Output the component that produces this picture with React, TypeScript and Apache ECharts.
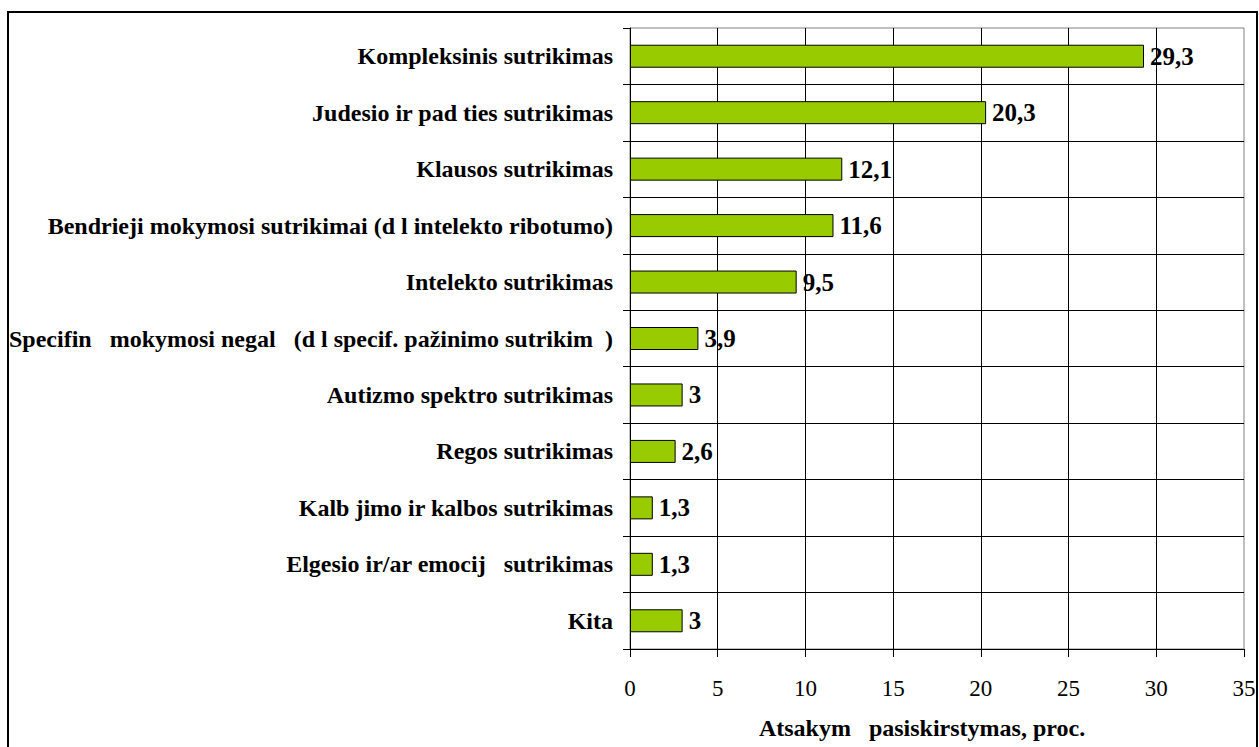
import React, { useEffect, useRef } from "react";
import * as echarts from "echarts";

const categories = [
  "Kompleksinis sutrikimas",
  "Judesio ir pad\u00a0ties sutrikimas",
  "Klausos sutrikimas",
  "Bendrieji mokymosi sutrikimai (d\u00a0l intelekto ribotumo)",
  "Intelekto sutrikimas",
  "Specifin\u00a0\u00a0 mokymosi negal\u00a0\u00a0 (d\u00a0l specif. pažinimo sutrikim\u00a0 )",
  "Autizmo spektro sutrikimas",
  "Regos sutrikimas",
  "Kalb\u00a0jimo ir kalbos sutrikimas",
  "Elgesio ir/ar emocij\u00a0\u00a0 sutrikimas",
  "Kita",
];
const values = [29.3, 20.3, 12.1, 11.6, 9.5, 3.9, 3, 2.6, 1.3, 1.3, 3];
const axisTitle = "Atsakym\u00a0\u00a0 pasiskirstymas, proc.";
const xMin = 0;
const xMax = 35;
const xStep = 5;

const FONT = "Liberation Serif";

export default function App() {
  const ref = useRef<HTMLDivElement>(null);
  useEffect(() => {
    if (!ref.current) return;
    const chart = echarts.init(ref.current, null, { renderer: "svg" });
    chart.setOption({
      animation: false,
      backgroundColor: "#ffffff",
      textStyle: { fontFamily: FONT },
      grid: {
        left: 630,
        right: 15,
        top: 28,
        bottom: 98,
        show: true,
        borderColor: "#808080",
        borderWidth: 1,
        backgroundColor: "transparent",
      },
      xAxis: {
        type: "value",
        min: xMin,
        max: xMax,
        interval: xStep,
        axisLine: { show: true, lineStyle: { color: "#000", width: 1 } },
        axisTick: { show: true, length: 8, lineStyle: { color: "#000" } },
        axisLabel: {
          margin: 28,
          fontFamily: FONT,
          fontSize: 23,
          color: "#000",
        },
        splitLine: {
          show: true,
          showMinLine: false,
          showMaxLine: false,
          lineStyle: { color: "#000", width: 1 },
        },
        name: axisTitle,
        nameLocation: "middle",
        nameGap: 67,
        nameTextStyle: {
          fontFamily: FONT,
          fontSize: 24,
          fontWeight: "bold",
          color: "#000",
          padding: [0, 30, 0, 0],
        },
      },
      yAxis: {
        type: "category",
        data: categories,
        inverse: true,
        axisLine: { show: true, lineStyle: { color: "#000", width: 1 } },
        axisTick: { show: true, length: 7, lineStyle: { color: "#000" } },
        axisLabel: {
          margin: 17,
          fontFamily: FONT,
          fontSize: 24,
          fontWeight: "bold",
          color: "#000",
        },
        splitLine: {
          show: true,
          showMinLine: false,
          showMaxLine: false,
          lineStyle: { color: "#000", width: 1 },
        },
      },
      series: [
        {
          type: "bar",
          data: values,
          barWidth: 23,
          itemStyle: { color: "#99cc00", borderColor: "#000", borderWidth: 1 },
          label: {
            show: true,
            position: "right",
            distance: 6,
            fontFamily: FONT,
            fontSize: 25,
            fontWeight: "bold",
            color: "#000",
            formatter: (p: any) => String(p.value).replace(".", ","),
          },
        },
      ],
      graphic: [
        {
          type: "rect",
          shape: { x: 8, y: 12, width: 1249, height: 760 },
          style: { fill: "none", stroke: "#000", lineWidth: 2 },
          silent: true,
          z: 100,
        },
      ],
    });
    return () => chart.dispose();
  }, []);
  return (
    <div
      ref={ref}
      style={{ position: "absolute", left: 0, top: 0, width: 1259, height: 747 }}
    />
  );
}
